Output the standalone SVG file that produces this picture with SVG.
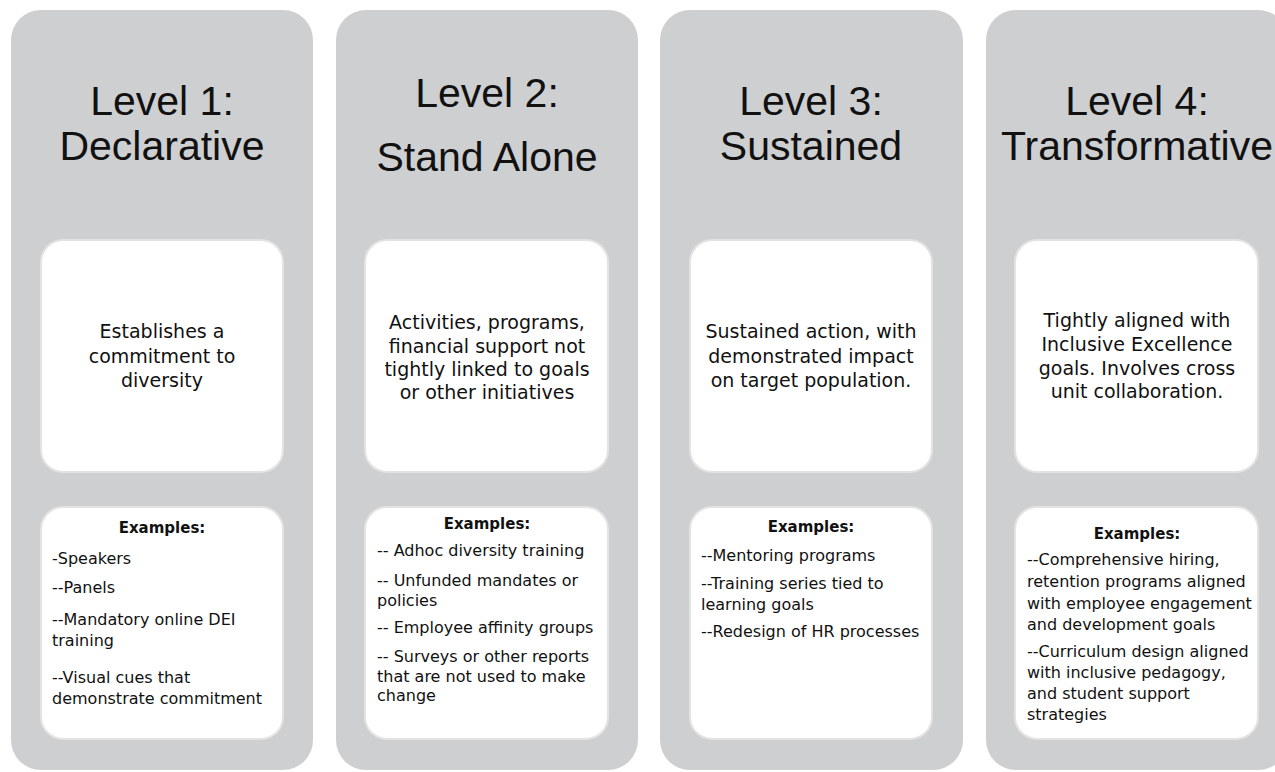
<svg xmlns="http://www.w3.org/2000/svg" width="1275" height="772" viewBox="0 0 1275 772">
<style>
.col{fill:#cecfd1}
.box{fill:#ffffff;stroke:#e3e3e3;stroke-width:2}
.hd{font-family:"Liberation Sans",Arial,sans-serif;font-size:41px;fill:#111;text-anchor:middle}
.ds{font-family:"DejaVu Sans",Verdana,sans-serif;font-size:19px;fill:#111;text-anchor:middle}
.exh{font-family:"DejaVu Sans",Verdana,sans-serif;font-size:15px;font-weight:bold;fill:#111;text-anchor:middle}
.ex{font-family:"DejaVu Sans",Verdana,sans-serif;font-size:16px;fill:#111}
</style>
<rect width="1275" height="772" fill="#ffffff"/>
<g id="level1">
<rect class="col" x="11" y="10" width="302" height="760" rx="30"/>
<text class="hd" x="162" y="115">Level 1:</text>
<text class="hd" x="162" y="160">Declarative</text>
<rect class="box" x="41" y="240" width="242" height="232" rx="22"/>
<text class="ds" x="162" y="338">Establishes a</text>
<text class="ds" x="162" y="363">commitment to</text>
<text class="ds" x="162" y="387">diversity</text>
<rect class="box" x="41" y="507" width="242" height="232" rx="22"/>
<text class="exh" x="162" y="533">Examples:</text>
<text class="ex" x="52" y="564">-Speakers</text>
<text class="ex" x="52" y="593">--Panels</text>
<text class="ex" x="52" y="625">--Mandatory online DEI</text>
<text class="ex" x="52" y="646">training</text>
<text class="ex" x="52" y="683">--Visual cues that</text>
<text class="ex" x="52" y="704">demonstrate commitment</text>
</g>
<g id="level2">
<rect class="col" x="336" y="10" width="302" height="760" rx="30"/>
<text class="hd" x="487" y="107">Level 2:</text>
<text class="hd" x="487" y="171">Stand Alone</text>
<rect class="box" x="365" y="240" width="243" height="232" rx="22"/>
<text class="ds" x="487" y="329">Activities, programs,</text>
<text class="ds" x="487" y="353">financial support not</text>
<text class="ds" x="487" y="376">tightly linked to goals</text>
<text class="ds" x="487" y="399">or other initiatives</text>
<rect class="box" x="365" y="507" width="243" height="232" rx="22"/>
<text class="exh" x="487" y="529">Examples:</text>
<text class="ex" x="377" y="556">-- Adhoc diversity training</text>
<text class="ex" x="377" y="586">-- Unfunded mandates or</text>
<text class="ex" x="377" y="606">policies</text>
<text class="ex" x="377" y="633">-- Employee  affinity groups</text>
<text class="ex" x="377" y="662">-- Surveys or other reports</text>
<text class="ex" x="377" y="682">that are not used to make</text>
<text class="ex" x="377" y="701">change</text>
</g>
<g id="level3">
<rect class="col" x="660" y="10" width="303" height="760" rx="30"/>
<text class="hd" x="811" y="115">Level 3:</text>
<text class="hd" x="811" y="160">Sustained</text>
<rect class="box" x="690" y="240" width="242" height="232" rx="22"/>
<text class="ds" x="811" y="338">Sustained action, with</text>
<text class="ds" x="811" y="363">demonstrated impact</text>
<text class="ds" x="811" y="387">on target population.</text>
<rect class="box" x="690" y="507" width="242" height="232" rx="22"/>
<text class="exh" x="811" y="532">Examples:</text>
<text class="ex" x="701" y="561">--Mentoring programs</text>
<text class="ex" x="701" y="589">--Training series tied to</text>
<text class="ex" x="701" y="610">learning goals</text>
<text class="ex" x="701" y="637">--Redesign of HR processes</text>
</g>
<g id="level4">
<rect class="col" x="986" y="10" width="302" height="760" rx="30"/>
<text class="hd" x="1137" y="115">Level 4:</text>
<text class="hd" x="1137" y="160">Transformative</text>
<rect class="box" x="1015" y="240" width="243" height="232" rx="22"/>
<text class="ds" x="1137" y="327">Tightly aligned with</text>
<text class="ds" x="1137" y="351">Inclusive Excellence</text>
<text class="ds" x="1137" y="375">goals. Involves cross</text>
<text class="ds" x="1137" y="398">unit collaboration.</text>
<rect class="box" x="1015" y="507" width="243" height="232" rx="22"/>
<text class="exh" x="1137" y="539">Examples:</text>
<text class="ex" x="1027" y="565">--Comprehensive hiring,</text>
<text class="ex" x="1027" y="587">retention programs aligned</text>
<text class="ex" x="1027" y="609">with employee engagement</text>
<text class="ex" x="1027" y="630">and development goals</text>
<text class="ex" x="1027" y="657">--Curriculum design aligned</text>
<text class="ex" x="1027" y="678">with inclusive pedagogy,</text>
<text class="ex" x="1027" y="699">and student support</text>
<text class="ex" x="1027" y="720">strategies</text>
</g>
<g id="connectors"/>
</svg>
